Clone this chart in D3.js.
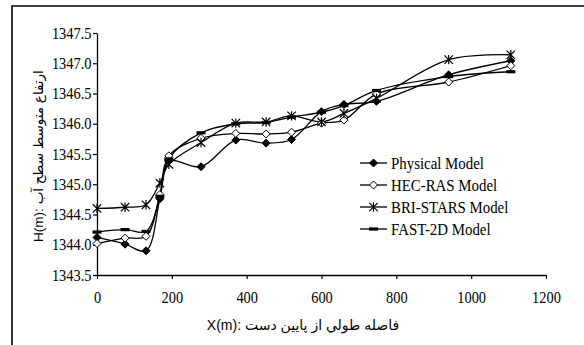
<!DOCTYPE html>
<html>
<head>
<meta charset="utf-8">
<script src="https://cdn.jsdelivr.net/npm/d3@7"></script>
<style>
  html, body { margin: 0; padding: 0; background: #fff; overflow: hidden; }
  svg { display: block; }
</style>
</head>
<body>
<svg id="chart" width="584" height="345"></svg>
<script>
// Distance along the channel from downstream (m)
const stations = [0, 75, 131, 168, 192, 278, 371, 452, 520, 600, 660, 747, 940, 1106];

// Mean water-surface elevation H (m) for each model
const physicalModel = [1344.12, 1344.01, 1343.90, 1344.76, 1345.38, 1345.29, 1345.73, 1345.68, 1345.74, 1346.20, 1346.32, 1346.37, 1346.81, 1347.04];
const hecRasModel   = [1344.02, 1344.11, 1344.14, 1344.83, 1345.47, 1345.76, 1345.84, 1345.83, 1345.86, 1346.01, 1346.06, 1346.49, 1346.69, 1346.96];
const briStarsModel = [1344.60, 1344.62, 1344.66, 1345.02, 1345.33, 1345.69, 1346.01, 1346.03, 1346.13, 1346.03, 1346.17, 1346.42, 1347.06, 1347.14];
const fast2dModel   = [1344.21, 1344.25, 1344.22, 1344.80, 1345.42, 1345.85, 1346.00, 1346.02, 1346.11, 1346.19, 1346.30, 1346.55, 1346.78, 1346.86];

const seriesNames = ["Physical Model", "HEC-RAS Model", "BRI-STARS Model", "FAST-2D Model"];
const markerKinds = ["filledDiamond", "openDiamond", "asterisk", "bar"];

const xTicks = [0, 200, 400, 600, 800, 1000, 1200];
const yTicks = [1343.5, 1344.0, 1344.5, 1345.0, 1345.5, 1346.0, 1346.5, 1347.0, 1347.5];

const xTitle = "فاصله طولي از پايين دست :X(m)";
const yTitle = "ارتفاع متوسط سطح آب :H(m)";

const seriesValues = [physicalModel, hecRasModel, briStarsModel, fast2dModel];

const svg = d3.select("#chart");
const serif = "'Liberation Serif', 'Times New Roman', serif";
const sans = "'Liberation Sans', Arial, 'DejaVu Sans', sans-serif";
const squeeze = 0.9;

// outer frame: top and left edges
svg.append("path")
  .attr("d", "M12,345V6H584")
  .attr("fill", "none").attr("stroke", "#000").attr("stroke-width", 1.6);

const x = d3.scaleLinear().domain([0, 1200]).range([97, 546]);
const y = d3.scaleLinear().domain([1343.5, 1347.5]).range([275, 33]);

// y axis
const gy = svg.append("g").attr("transform", "translate(97,0)")
  .call(d3.axisLeft(y).tickValues(yTicks).tickFormat(d3.format(".1f")).tickSize(4).tickSizeOuter(0).tickPadding(1));
gy.select(".domain").attr("stroke-width", 1.3);
gy.selectAll(".tick line").attr("stroke-width", 1.2);
gy.selectAll(".tick text")
  .attr("font-family", serif).attr("font-size", 16).attr("fill", "#000")
  .attr("x", -5.5 / squeeze)
  .attr("transform", `scale(${squeeze},1)`);

// x axis
const gx = svg.append("g").attr("transform", "translate(0,275)")
  .call(d3.axisBottom(x).tickValues(xTicks).tickFormat(d3.format("d")).tickSize(4).tickSizeOuter(0).tickPadding(13));
gx.select(".domain").attr("stroke-width", 1.3);
gx.selectAll(".tick line").attr("stroke-width", 1.2);
gx.selectAll(".tick text")
  .attr("font-family", serif).attr("font-size", 16).attr("fill", "#000")
  .attr("transform", `scale(${squeeze},1)`);

// axis titles
svg.append("text")
  .attr("x", 303).attr("y", 330)
  .attr("text-anchor", "middle")
  .attr("direction", "rtl")
  .attr("font-family", sans).attr("font-size", 14)
  .text(xTitle);

svg.append("text")
  .attr("transform", "translate(43,156) rotate(-90)")
  .attr("text-anchor", "middle")
  .attr("direction", "rtl")
  .attr("font-family", sans).attr("font-size", 13.5)
  .text(yTitle);

// marker drawing
function drawMarker(g, kind, cx, cy) {
  if (kind === "filledDiamond" || kind === "openDiamond") {
    const r = 4;
    g.append("path")
      .attr("d", `M${cx},${cy - r}L${cx + r},${cy}L${cx},${cy + r}L${cx - r},${cy}Z`)
      .attr("fill", kind === "filledDiamond" ? "#000" : "#fff")
      .attr("stroke", "#000").attr("stroke-width", 1);
  } else if (kind === "asterisk") {
    const r = 4.2;
    g.append("path")
      .attr("d", `M${cx - r},${cy - r}L${cx + r},${cy + r}M${cx - r},${cy + r}L${cx + r},${cy - r}M${cx},${cy - r - 0.5}L${cx},${cy + r + 0.5}`)
      .attr("fill", "none").attr("stroke", "#000").attr("stroke-width", 1.2);
  } else {
    g.append("rect")
      .attr("x", cx - 4.5).attr("y", cy - 1.6).attr("width", 9).attr("height", 3.2)
      .attr("fill", "#000");
  }
}

const line = d3.line()
  .x(d => x(d[0])).y(d => y(d[1]))
  .curve(d3.curveCatmullRom.alpha(0.5));

const plot = svg.append("g");
seriesValues.forEach((vals) => {
  const pts = stations.map((s, k) => [s, vals[k]]);
  plot.append("path")
    .attr("d", line(pts))
    .attr("fill", "none").attr("stroke", "#000").attr("stroke-width", 1.3);
});
seriesValues.forEach((vals, i) => {
  const g = plot.append("g");
  stations.forEach((s, k) => drawMarker(g, markerKinds[i], x(s), y(vals[k])));
});

// legend
const legend = svg.append("g");
seriesNames.forEach((name, i) => {
  const ly = 163 + i * 22;
  legend.append("line")
    .attr("x1", 360).attr("x2", 387).attr("y1", ly).attr("y2", ly)
    .attr("stroke", "#000").attr("stroke-width", 1.3);
  drawMarker(legend, markerKinds[i], 373.5, ly);
  legend.append("text")
    .attr("transform", `translate(391,${ly + 5.5}) scale(0.93,1)`)
    .attr("font-family", serif).attr("font-size", 16)
    .text(name);
});
</script>
</body>
</html>
